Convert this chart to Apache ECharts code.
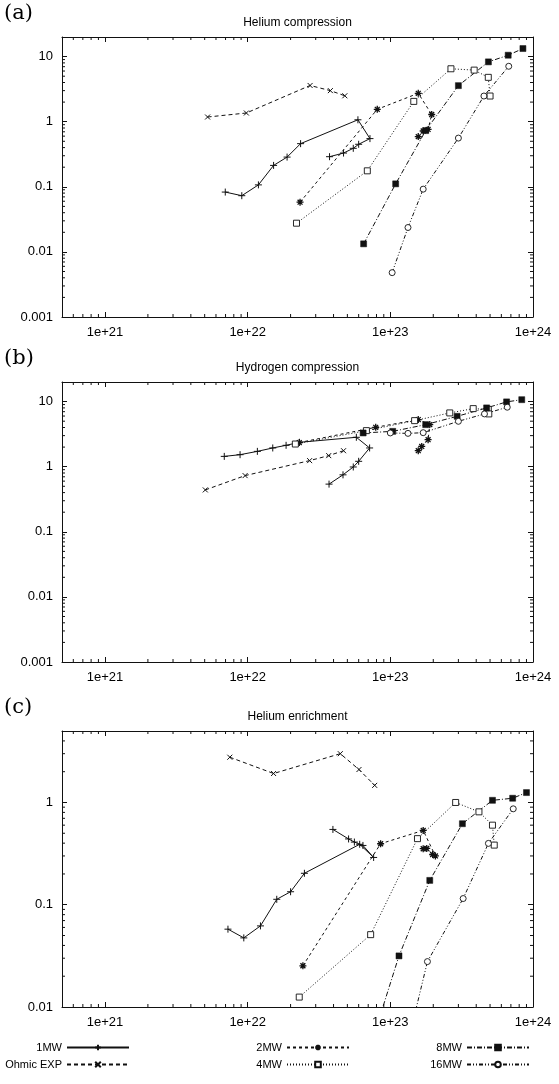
<!DOCTYPE html>
<html>
<head>
<meta charset="utf-8">
<script src="https://cdn.jsdelivr.net/npm/echarts@6/dist/echarts.min.js"></script>
<style>
html, body { margin: 0; padding: 0; background: #fff; }
#chart { width: 559px; height: 1084px; }
</style>
</head>
<body>
<div id="chart"></div>
<script>
const panelTitles = ['Helium compression', 'Hydrogen compression', 'Helium enrichment']
const panelTags = ['(a)', '(b)', '(c)']
const seriesNames = ['1MW', 'Ohmic EXP', '2MW', '4MW', '8MW', '16MW']

// (a) Helium compression
const aMw1X = [6.97e21, 9.1e21, 1.19e22, 1.52e22, 1.89e22, 2.35e22, 5.93e22, 7.2e22, 6.0e22, 5.5e22, 4.7e22, 3.75e22]
const aMw1Y = [0.083, 0.073, 0.107, 0.213, 0.286, 0.46, 1.07, 0.55, 0.45, 0.39, 0.33, 0.29]
const aOhmicX = [5.24e21, 9.8e21, 2.74e22, 3.8e22, 4.8e22]
const aOhmicY = [1.18, 1.36, 3.6, 3.0, 2.5]
const aMw2X = [2.33e22, 8.1e22, 1.57e23, 1.95e23, 1.84e23, 1.7e23, 1.57e23]
const aMw2Y = [0.058, 1.55, 2.73, 1.29, 0.76, 0.72, 0.59]
const aMw4X = [2.2e22, 6.9e22, 1.46e23, 2.66e23, 3.87e23, 4.86e23, 5.0e23]
const aMw4Y = [0.0276, 0.176, 2.05, 6.5, 6.2, 4.8, 2.48]
const aMw8X = [6.5e22, 1.09e23, 1.77e23, 3.0e23, 4.87e23, 6.7e23, 8.5e23]
const aMw8Y = [0.0133, 0.111, 0.73, 3.58, 8.3, 10.5, 13.3]
const aMw16X = [1.03e23, 1.33e23, 1.7e23, 3.0e23, 4.53e23, 6.76e23]
const aMw16Y = [0.0048, 0.0237, 0.092, 0.56, 2.48, 7.1]

// (b) Hydrogen compression
const bMw1X = [6.86e21, 8.85e21, 1.17e22, 1.5e22, 1.86e22, 2.31e22, 5.78e22, 7.16e22, 6.0e22, 5.5e22, 4.66e22, 3.72e22]
const bMw1Y = [1.44, 1.53, 1.72, 1.94, 2.13, 2.37, 2.83, 1.94, 1.21, 0.99, 0.75, 0.54]
const bOhmicX = [5.05e21, 9.6e21, 2.72e22, 3.7e22, 4.7e22]
const bOhmicY = [0.44, 0.73, 1.24, 1.48, 1.76]
const bMw2X = [2.3e22, 7.9e22, 1.57e23, 1.89e23, 1.84e23, 1.66e23, 1.57e23]
const bMw2Y = [2.35, 4.03, 5.29, 4.43, 2.6, 2.05, 1.76]
const bMw4X = [2.16e22, 6.8e22, 1.48e23, 2.61e23, 3.81e23, 4.86e23, 4.9e23]
const bMw4Y = [2.23, 3.58, 5.1, 6.7, 7.8, 7.6, 6.47]
const bMw8X = [6.45e22, 1.04e23, 1.77e23, 2.94e23, 4.73e23, 6.53e23, 8.34e23]
const bMw8Y = [3.3, 3.49, 4.43, 5.94, 8.0, 9.9, 10.7]
const bMw16X = [1.0e23, 1.33e23, 1.7e23, 3.0e23, 4.57e23, 6.6e23]
const bMw16Y = [3.3, 3.25, 3.33, 4.98, 6.47, 8.2]

// (c) Helium enrichment
const cMw1X = [7.28e21, 9.4e21, 1.23e22, 1.6e22, 2.0e22, 2.5e22, 6.1e22, 7.64e22, 6.43e22, 5.6e22, 5.1e22, 3.96e22]
const cMw1Y = [0.0577, 0.0474, 0.0621, 0.113, 0.134, 0.203, 0.39, 0.29, 0.38, 0.41, 0.44, 0.545]
const cOhmicX = [7.5e21, 1.52e22, 4.46e22, 6.03e22, 7.77e22]
const cOhmicY = [2.77, 1.92, 3.0, 2.1, 1.47]
const cMw2X = [2.44e22, 8.55e22, 1.7e23, 2.07e23, 1.98e23, 1.8e23, 1.7e23]
const cMw2Y = [0.0253, 0.395, 0.533, 0.3, 0.31, 0.355, 0.353]
const cMw4X = [2.3e22, 7.28e22, 1.55e23, 2.87e23, 4.18e23, 5.2e23, 5.35e23]
const cMw4Y = [0.0125, 0.051, 0.443, 1.0, 0.81, 0.6, 0.383]
const cMw8X = [7.0e22, 1.15e23, 1.89e23, 3.2e23, 5.2e23, 7.2e23, 9.0e23]
const cMw8Y = [0.0035, 0.0316, 0.173, 0.62, 1.05, 1.1, 1.25]
const cMw16X = [1.1e23, 1.42e23, 1.82e23, 3.24e23, 4.87e23, 7.27e23]
const cMw16Y = [0.0008, 0.0066, 0.0278, 0.115, 0.398, 0.867]

const xRange = [5e20, 1e24]
const yRanges = [[0.001, 20], [0.001, 20], [0.01, 5]]

const panelData = [
  { '1MW': [aMw1X, aMw1Y], 'Ohmic EXP': [aOhmicX, aOhmicY], '2MW': [aMw2X, aMw2Y],
    '4MW': [aMw4X, aMw4Y], '8MW': [aMw8X, aMw8Y], '16MW': [aMw16X, aMw16Y] },
  { '1MW': [bMw1X, bMw1Y], 'Ohmic EXP': [bOhmicX, bOhmicY], '2MW': [bMw2X, bMw2Y],
    '4MW': [bMw4X, bMw4Y], '8MW': [bMw8X, bMw8Y], '16MW': [bMw16X, bMw16Y] },
  { '1MW': [cMw1X, cMw1Y], 'Ohmic EXP': [cOhmicX, cOhmicY], '2MW': [cMw2X, cMw2Y],
    '4MW': [cMw4X, cMw4Y], '8MW': [cMw8X, cMw8Y], '16MW': [cMw16X, cMw16Y] },
]

const FONT = 'Liberation Sans, Arial, sans-serif'
const INK = '#111'

// gnuplot-like point types
const PLUS = 'path://M0,5L10,5M5,0L5,10'
const CROSS = 'path://M0,0L10,10M10,0L0,10'
const STAR = 'path://M0,5L10,5M5,0L5,10M1.5,1.5L8.5,8.5M8.5,1.5L1.5,8.5'
const look = {
  '1MW': { symbol: PLUS, size: 7, dash: 'solid', fill: INK, bw: 1 },
  'Ohmic EXP': { symbol: CROSS, size: 5, dash: [4, 3], fill: INK, bw: 1 },
  '2MW': { symbol: STAR, size: 7, dash: [3, 3], fill: 'none', bw: 1.3 },
  '4MW': { symbol: 'rect', size: 6, dash: [1, 2], fill: '#fff', bw: 0.9 },
  '8MW': { symbol: 'rect', size: 6, dash: [5, 2, 1, 2], fill: INK, bw: 0.5 },
  '16MW': { symbol: 'circle', size: 6, dash: [4, 2, 1, 2, 1, 2], fill: '#fff', bw: 0.9 },
}

// 2..9 x 10^n inside (lo, hi)
function minorTicks(lo, hi) {
  const out = []
  for (let d = Math.floor(Math.log10(lo)); d < Math.log10(hi); d++) {
    for (let m = 2; m <= 9; m++) {
      const v = m * Math.pow(10, d)
      if (v > lo * 1.0001 && v < hi * 0.9999) out.push(v)
    }
  }
  return out
}

function isDecade(v) {
  const e = Math.log10(v)
  return Math.abs(e - Math.round(e)) < 1e-6
}

const grids = [
  { left: 62, right: 26, top: 37, height: 280 },
  { left: 62, right: 26, top: 382, height: 280 },
  { left: 62, right: 26, top: 731, height: 276 },
]

const xAxes = []
const yAxes = []
const series = []
const graphics = []

grids.forEach((g, i) => {
  const axisLine = { show: true, lineStyle: { color: INK, width: 1 } }
  const tick = { show: true, inside: true, length: 5, lineStyle: { color: INK, width: 1 } }
  xAxes.push({
    type: 'log', logBase: 10, gridIndex: i, min: xRange[0], max: xRange[1], position: 'bottom',
    axisLine, axisTick: tick, splitLine: { show: false },
    axisLabel: {
      showMinLabel: false, showMaxLabel: true, margin: 9, color: '#000', fontFamily: FONT, fontSize: 13,
      formatter: (v) => (isDecade(v) ? '1e+' + Math.round(Math.log10(v)) : ''),
    },
  })
  xAxes.push({
    type: 'log', logBase: 10, gridIndex: i, min: xRange[0], max: xRange[1], position: 'top',
    axisLine, axisTick: tick, axisLabel: { show: false }, splitLine: { show: false },
  })
  const yr = yRanges[i]
  yAxes.push({
    type: 'log', logBase: 10, gridIndex: i, min: yr[0], max: yr[1], position: 'left',
    axisLine, axisTick: tick, splitLine: { show: false },
    axisLabel: {
      showMaxLabel: false, margin: 9, color: '#000', fontFamily: FONT, fontSize: 13,
      formatter: (v) => {
        if (!isDecade(v)) return ''
        const e = Math.round(Math.log10(v))
        return e >= 0 ? String(Math.pow(10, e)) : '0.' + '0'.repeat(-e - 1) + '1'
      },
    },
  })
  yAxes.push({
    type: 'log', logBase: 10, gridIndex: i, min: yr[0], max: yr[1], position: 'right',
    axisLine, axisTick: tick, axisLabel: { show: false }, splitLine: { show: false },
  })

  seriesNames.forEach((name) => {
    const [xs, ys] = panelData[i][name]
    const st = look[name]
    series.push({
      name, type: 'line', xAxisIndex: 2 * i, yAxisIndex: 2 * i,
      data: xs.map((x, k) => [x, ys[k]]),
      symbol: st.symbol, symbolSize: st.size, showAllSymbol: true, clip: true,
      lineStyle: { color: INK, width: 1, type: st.dash },
      itemStyle: { color: st.fill, borderColor: INK, borderWidth: st.bw },
      emphasis: { disabled: true }, z: 3,
    })
  })

  // minor ticks on all four sides, placed through the axes
  const refX = 1e22
  const refY = 1
  const ticks = minorTicks(xRange[0], xRange[1]).map((v) => [v, refY, 0])
    .concat(minorTicks(yr[0], yr[1]).map((v) => [refX, v, 1]))
  series.push({
    type: 'custom', xAxisIndex: 2 * i, yAxisIndex: 2 * i, silent: true, clip: false, z: 2,
    data: ticks,
    renderItem: (params, api) => {
      const cs = params.coordSys
      const p = api.coord([api.value(0), api.value(1)])
      const st = { stroke: INK, lineWidth: 1 }
      const len = 3
      if (api.value(2) === 0) {
        return { type: 'group', children: [
          { type: 'line', shape: { x1: p[0], y1: cs.y + cs.height, x2: p[0], y2: cs.y + cs.height - len }, style: st },
          { type: 'line', shape: { x1: p[0], y1: cs.y, x2: p[0], y2: cs.y + len }, style: st },
        ] }
      }
      return { type: 'group', children: [
        { type: 'line', shape: { x1: cs.x, y1: p[1], x2: cs.x + len, y2: p[1] }, style: st },
        { type: 'line', shape: { x1: cs.x + cs.width, y1: p[1], x2: cs.x + cs.width - len, y2: p[1] }, style: st },
      ] }
    },
  })

  graphics.push({
    type: 'text', left: 4, top: g.top - 34,
    style: { text: panelTags[i], font: '21px "DejaVu Serif", serif', fill: '#000' },
  })
  graphics.push({
    type: 'text', x: g.left + (559 - g.left - g.right) / 2, y: g.top - 14,
    style: { text: panelTitles[i], font: '12px ' + FONT, fill: '#000', textAlign: 'center', textVerticalAlign: 'middle' },
  })
})

const legendBase = {
  orient: 'vertical', align: 'right', top: 1042, padding: 0, itemWidth: 62, itemHeight: 7, itemGap: 6,
  selectedMode: false, textStyle: { fontFamily: FONT, fontSize: 11, color: '#000' },
}

const chart = echarts.init(document.getElementById('chart'))
chart.setOption({
  animation: false,
  backgroundColor: '#fff',
  grid: grids,
  xAxis: xAxes,
  yAxis: yAxes,
  series,
  graphic: graphics,
  legend: [
    { ...legendBase, right: 429, data: ['1MW', 'Ohmic EXP'] },
    { ...legendBase, right: 209, data: ['2MW', '4MW'] },
    { ...legendBase, right: 29, data: ['8MW', '16MW'] },
  ],
})
</script>
</body>
</html>
